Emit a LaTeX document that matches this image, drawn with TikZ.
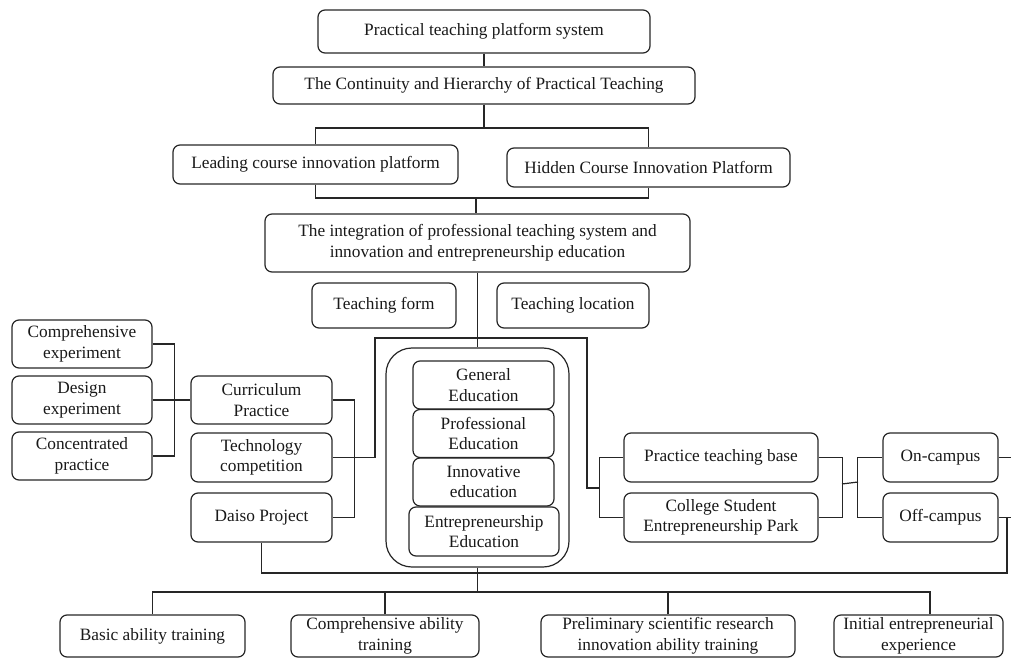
\documentclass[tikz,border=0pt]{standalone}
\usepackage{fontspec}
\setmainfont{Liberation Serif}
\newcommand\boxfont{\fontsize{17.3}{20.5}\selectfont}
\begin{document}
\begin{tikzpicture}[x=1pt,y=-1pt,
  box/.style={draw=black!85, line width=1.2pt, rounded corners=7pt, align=center,
    inner sep=0pt, font=\boxfont, text=black!90},
  conn/.style={draw=black!85, line width=1.2pt}]
\useasboundingbox (0,0) rectangle (1011,660);
% top chain
\node[box, minimum width=332pt, minimum height=43pt] (top) at (484,31.5) {Practical teaching platform system};
\node[box, minimum width=422pt, minimum height=37pt] (cont) at (484,85.5) {The Continuity and Hierarchy of Practical Teaching};
\node[box, minimum width=285pt, minimum height=39pt] (lead) at (315.5,164.5) {Leading course innovation platform};
\node[box, minimum width=283pt, minimum height=39pt] (hidden) at (648.5,167.5) {Hidden Course Innovation Platform};
\node[box, minimum width=425pt, minimum height=58pt] (integ) at (477.5,243) {The integration of professional teaching system and\\innovation and entrepreneurship education};
\node[box, minimum width=144pt, minimum height=45pt] (form) at (384,305.5) {Teaching form};
\node[box, minimum width=152pt, minimum height=45pt] (loc) at (573,305.5) {Teaching location};
% left
\node[box, minimum width=140pt, minimum height=48pt] (cexp) at (82,344) {Comprehensive\\experiment};
\node[box, minimum width=140pt, minimum height=48pt] (dexp) at (82,400) {Design\\experiment};
\node[box, minimum width=140pt, minimum height=48pt] (conc) at (82,456) {Concentrated\\practice};
\node[box, minimum width=141pt, minimum height=48pt] (curr) at (261.5,400) {Curriculum\\Practice};
\node[box, minimum width=141pt, minimum height=49pt] (tech) at (261.5,457.5) {Technology\\competition};
\node[box, minimum width=141pt, minimum height=49pt] (daiso) at (261.5,517.5) {Daiso Project};
% centre container
\node[box, rounded corners=26pt, minimum width=183pt, minimum height=219pt] (contain) at (477.5,457.5) {};
\node[box, minimum width=141pt, minimum height=48pt] (gen) at (483.5,385) {General\\Education};
\node[box, minimum width=141pt, minimum height=48pt] (prof) at (483.5,433.5) {Professional\\Education};
\node[box, minimum width=141pt, minimum height=48pt] (innov) at (483.5,482) {Innovative\\education};
\node[box, minimum width=150pt, minimum height=49pt] (entre) at (484,531.5) {Entrepreneurship\\Education};
% right
\node[box, minimum width=194pt, minimum height=49pt] (ptb) at (721,457.5) {Practice teaching base};
\node[box, minimum width=194pt, minimum height=49pt] (csep) at (721,517.5) {College Student\\Entrepreneurship Park};
\node[box, minimum width=115pt, minimum height=49pt] (on) at (940.5,457.5) {On-campus};
\node[box, minimum width=115pt, minimum height=49pt] (off) at (940.5,517.5) {Off-campus};
% bottom
\node[box, minimum width=185pt, minimum height=42pt] (basic) at (152.5,636) {Basic ability training};
\node[box, minimum width=188pt, minimum height=42pt] (compab) at (385,636) {Comprehensive ability\\training};
\node[box, minimum width=254pt, minimum height=42pt] (prelim) at (668,636) {Preliminary scientific research\\innovation ability training};
\node[box, minimum width=169pt, minimum height=42pt] (init) at (918.5,636) {Initial entrepreneurial\\experience};
% junction coordinates
\coordinate (j1) at (484,128);
\coordinate (j2) at (476,198);
\coordinate (jl) at (375,338);
\coordinate (jr) at (587,338);
\coordinate (pj) at (600,488);
\coordinate (bm1) at (842,484);
\coordinate (bm2) at (858,482);
\coordinate (e1) at (1011,457.5);
\coordinate (e2) at (1011,517.5);
\coordinate (r1) at (1007,517.5);
\coordinate (r2) at (1007,573);
\coordinate (jb) at (477.5,592);
\coordinate (h1) at (152.5,592);
\coordinate (h4) at (930,592);
% connectors
\draw[conn] (top.south) -- (cont.north);
\draw[conn] (cont.south) -- (j1);
\draw[conn] (lead.north) |- (j1) -| (hidden.north);
\draw[conn] (lead.south) |- (j2) -| (hidden.south);
\draw[conn] (j2) -- (j2 |- integ.north);
\draw[conn] (integ.south) -- (contain.north);
\draw[conn] (tech.east) -| (jl) -- (jr) |- (pj);
\draw[conn] (ptb.west) -- ++(-24,0) |- (csep.west);
\draw[conn] (ptb.east) -- ++(24,0) |- (csep.east);
\draw[conn] (bm1) -- (bm2);
\draw[conn] (on.west) -- ++(-25,0) |- (off.west);
\draw[conn] (on.east) -- (e1);
\draw[conn] (off.east) -- (e2);
\draw[conn] (r1) -- (r2) -| (daiso.south);
\draw[conn] (curr.east) -- ++(22,0) |- (daiso.east);
\draw[conn] (cexp.east) -- ++(22,0) |- (conc.east);
\draw[conn] (dexp.east) -- (curr.west);
\draw[conn] (contain.south) -- (jb);
\draw[conn] (basic.north) -- (h1) -- (h4) -- (h4 |- init.north);
\draw[conn] (compab.north) -- (compab.north |- h1);
\draw[conn] (prelim.north) -- (prelim.north |- h1);
\end{tikzpicture}
\end{document}
